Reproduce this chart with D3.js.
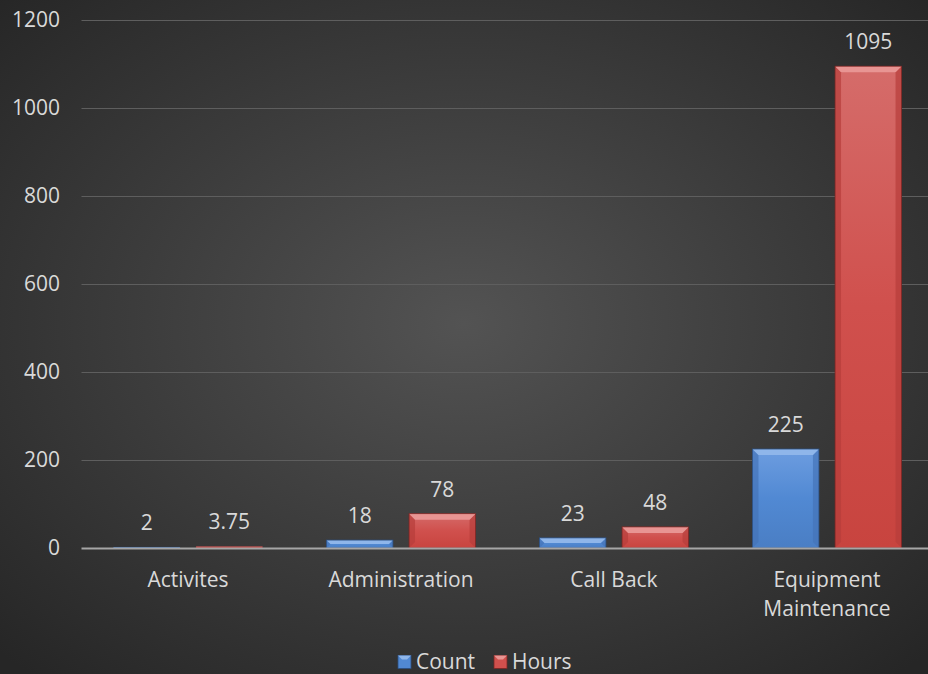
<!DOCTYPE html>
<html><head><meta charset="utf-8">
<script src="https://cdn.jsdelivr.net/npm/d3@7"></script>
<style>html,body{margin:0;padding:0;background:#2b2b2b;}svg{display:block;}</style>
</head><body>
<script>
const categories = [["Activites"], ["Administration"], ["Call Back"], ["Equipment", "Maintenance"]];
const seriesNames = ["Count", "Hours"];
const countValues = [2, 18, 23, 225];
const hoursValues = [3.75, 78, 48, 1095];
const countLabels = ["2", "18", "23", "225"];
const hoursLabels = ["3.75", "78", "48", "1095"];
const yTicks = [0, 200, 400, 600, 800, 1000, 1200];

const W = 928, H = 674;
const FONT = "Open Sans, sans-serif";
const FS = 21;
const svg = d3.select("body").append("svg").attr("width", W).attr("height", H);
const defs = svg.append("defs");

const bg = defs.append("radialGradient").attr("id", "bg").attr("cx", "50%").attr("cy", "48%").attr("r", "70%");
bg.append("stop").attr("offset", "0%").attr("stop-color", "#535353");
bg.append("stop").attr("offset", "100%").attr("stop-color", "#262626");
svg.append("rect").attr("width", W).attr("height", H).attr("fill", "url(#bg)");

const colors = {
  Count: {top: "#6d9de0", mid: "#5189d3", bot: "#4a7ec4", bevelTop: "#8fb6ea", side: "#4474b8", stroke: "#2c4f80"},
  Hours: {top: "#d56c6a", mid: "#d0504d", bot: "#c8443f", bevelTop: "#e89593", side: "#b63d3a", stroke: "#7a2624"}
};
seriesNames.forEach(s => {
  const g = defs.append("linearGradient").attr("id", "g" + s).attr("x1", 0).attr("x2", 0).attr("y1", 0).attr("y2", 1);
  g.append("stop").attr("offset", "0%").attr("stop-color", colors[s].top);
  g.append("stop").attr("offset", "50%").attr("stop-color", colors[s].mid);
  g.append("stop").attr("offset", "100%").attr("stop-color", colors[s].bot);
});

const plotLeft = 81.5, plotRight = 933.5, gridRight = 928;
const y = d3.scaleLinear().domain([0, 1200]).range([548, 20]);
const x0 = d3.scaleBand().domain(d3.range(categories.length)).range([plotLeft, plotRight]).paddingInner(0.3).paddingOuter(0.15);
const x1 = d3.scaleBand().domain(seriesNames).range([0, x0.bandwidth()]).paddingInner(0.195);

// gridlines
svg.append("g").selectAll("line").data(yTicks.filter(d => d > 0)).join("line")
  .attr("x1", plotLeft).attr("x2", gridRight)
  .attr("y1", d => y(d) + 0.5).attr("y2", d => y(d) + 0.5)
  .attr("stroke", "#5e5e5e").attr("stroke-width", 1);

// y tick labels
svg.append("g").selectAll("text").data(yTicks).join("text")
  .attr("x", 60).attr("y", d => y(d)).attr("dy", "0.35em")
  .attr("text-anchor", "end").attr("fill", "#d9d9d9")
  .attr("font-family", FONT).attr("font-size", FS).text(d => d);

// bars
const data = [];
categories.forEach((c, i) => {
  data.push({i, s: "Count", v: countValues[i], label: countLabels[i]});
  data.push({i, s: "Hours", v: hoursValues[i], label: hoursLabels[i]});
});
const bars = svg.append("g").selectAll("g").data(data).join("g");
bars.each(function(d) {
  const g = d3.select(this);
  const bx = x0(d.i) + x1(d.s), bw = x1.bandwidth();
  const by = y(d.v), bh = y(0) - y(d.v);
  const c = colors[d.s];
  g.append("rect").attr("x", bx).attr("y", by).attr("width", bw).attr("height", bh)
    .attr("fill", "url(#g" + d.s + ")");
  const b = Math.min(6, bh / 2);
  if (bh > 2) {
    g.append("polygon").attr("points", [[bx, by], [bx + b, by + b], [bx + b, by + bh - b], [bx, by + bh]].join(" "))
      .attr("fill", c.side).attr("opacity", 0.7);
    g.append("polygon").attr("points", [[bx + bw, by], [bx + bw - b, by + b], [bx + bw - b, by + bh - b], [bx + bw, by + bh]].join(" "))
      .attr("fill", c.side).attr("opacity", 0.7);
    g.append("polygon").attr("points", [[bx, by], [bx + bw, by], [bx + bw - b, by + b], [bx + b, by + b]].join(" "))
      .attr("fill", c.bevelTop);
  }
  g.append("rect").attr("x", bx).attr("y", by).attr("width", bw).attr("height", bh)
    .attr("fill", "none").attr("stroke", c.stroke).attr("stroke-width", 0.8).attr("opacity", bh > 2 ? 1 : 0.3);
  g.append("text").attr("x", bx + bw / 2).attr("y", by - 17)
    .attr("text-anchor", "middle").attr("fill", "#d9d9d9")
    .attr("font-family", FONT).attr("font-size", FS).text(d.label);
});

// axis line
svg.append("line").attr("x1", plotLeft).attr("x2", gridRight).attr("y1", y(0) + 0.5).attr("y2", y(0) + 0.5)
  .attr("stroke", "#a6a6a6").attr("stroke-width", 2);

// category labels
const cat = svg.append("g").selectAll("text").data(categories).join("text")
  .attr("text-anchor", "middle").attr("fill", "#d9d9d9")
  .attr("font-family", FONT).attr("font-size", FS);
cat.each(function(lines, i) {
  const t = d3.select(this);
  lines.forEach((ln, k) => {
    t.append("tspan").attr("x", x0(i) + x0.bandwidth() / 2).attr("y", 587 + k * 29).text(ln);
  });
});

// legend
const legend = svg.append("g");
const leg = [{s: "Count", x: 398}, {s: "Hours", x: 494}];
leg.forEach(l => {
  const c = colors[l.s];
  legend.append("rect").attr("x", l.x).attr("y", 655.5).attr("width", 13).attr("height", 13)
    .attr("fill", c.mid).attr("stroke", c.stroke).attr("stroke-width", 0.8);
  legend.append("polygon").attr("points", [[l.x, 655.5], [l.x + 13, 655.5], [l.x + 9, 659.5], [l.x + 4, 659.5]].join(" "))
    .attr("fill", c.bevelTop);
  legend.append("text").attr("x", l.x + 18).attr("y", 662).attr("dy", "0.35em")
    .attr("fill", "#d9d9d9").attr("font-family", FONT).attr("font-size", FS).text(l.s);
});
</script>
</body></html>
